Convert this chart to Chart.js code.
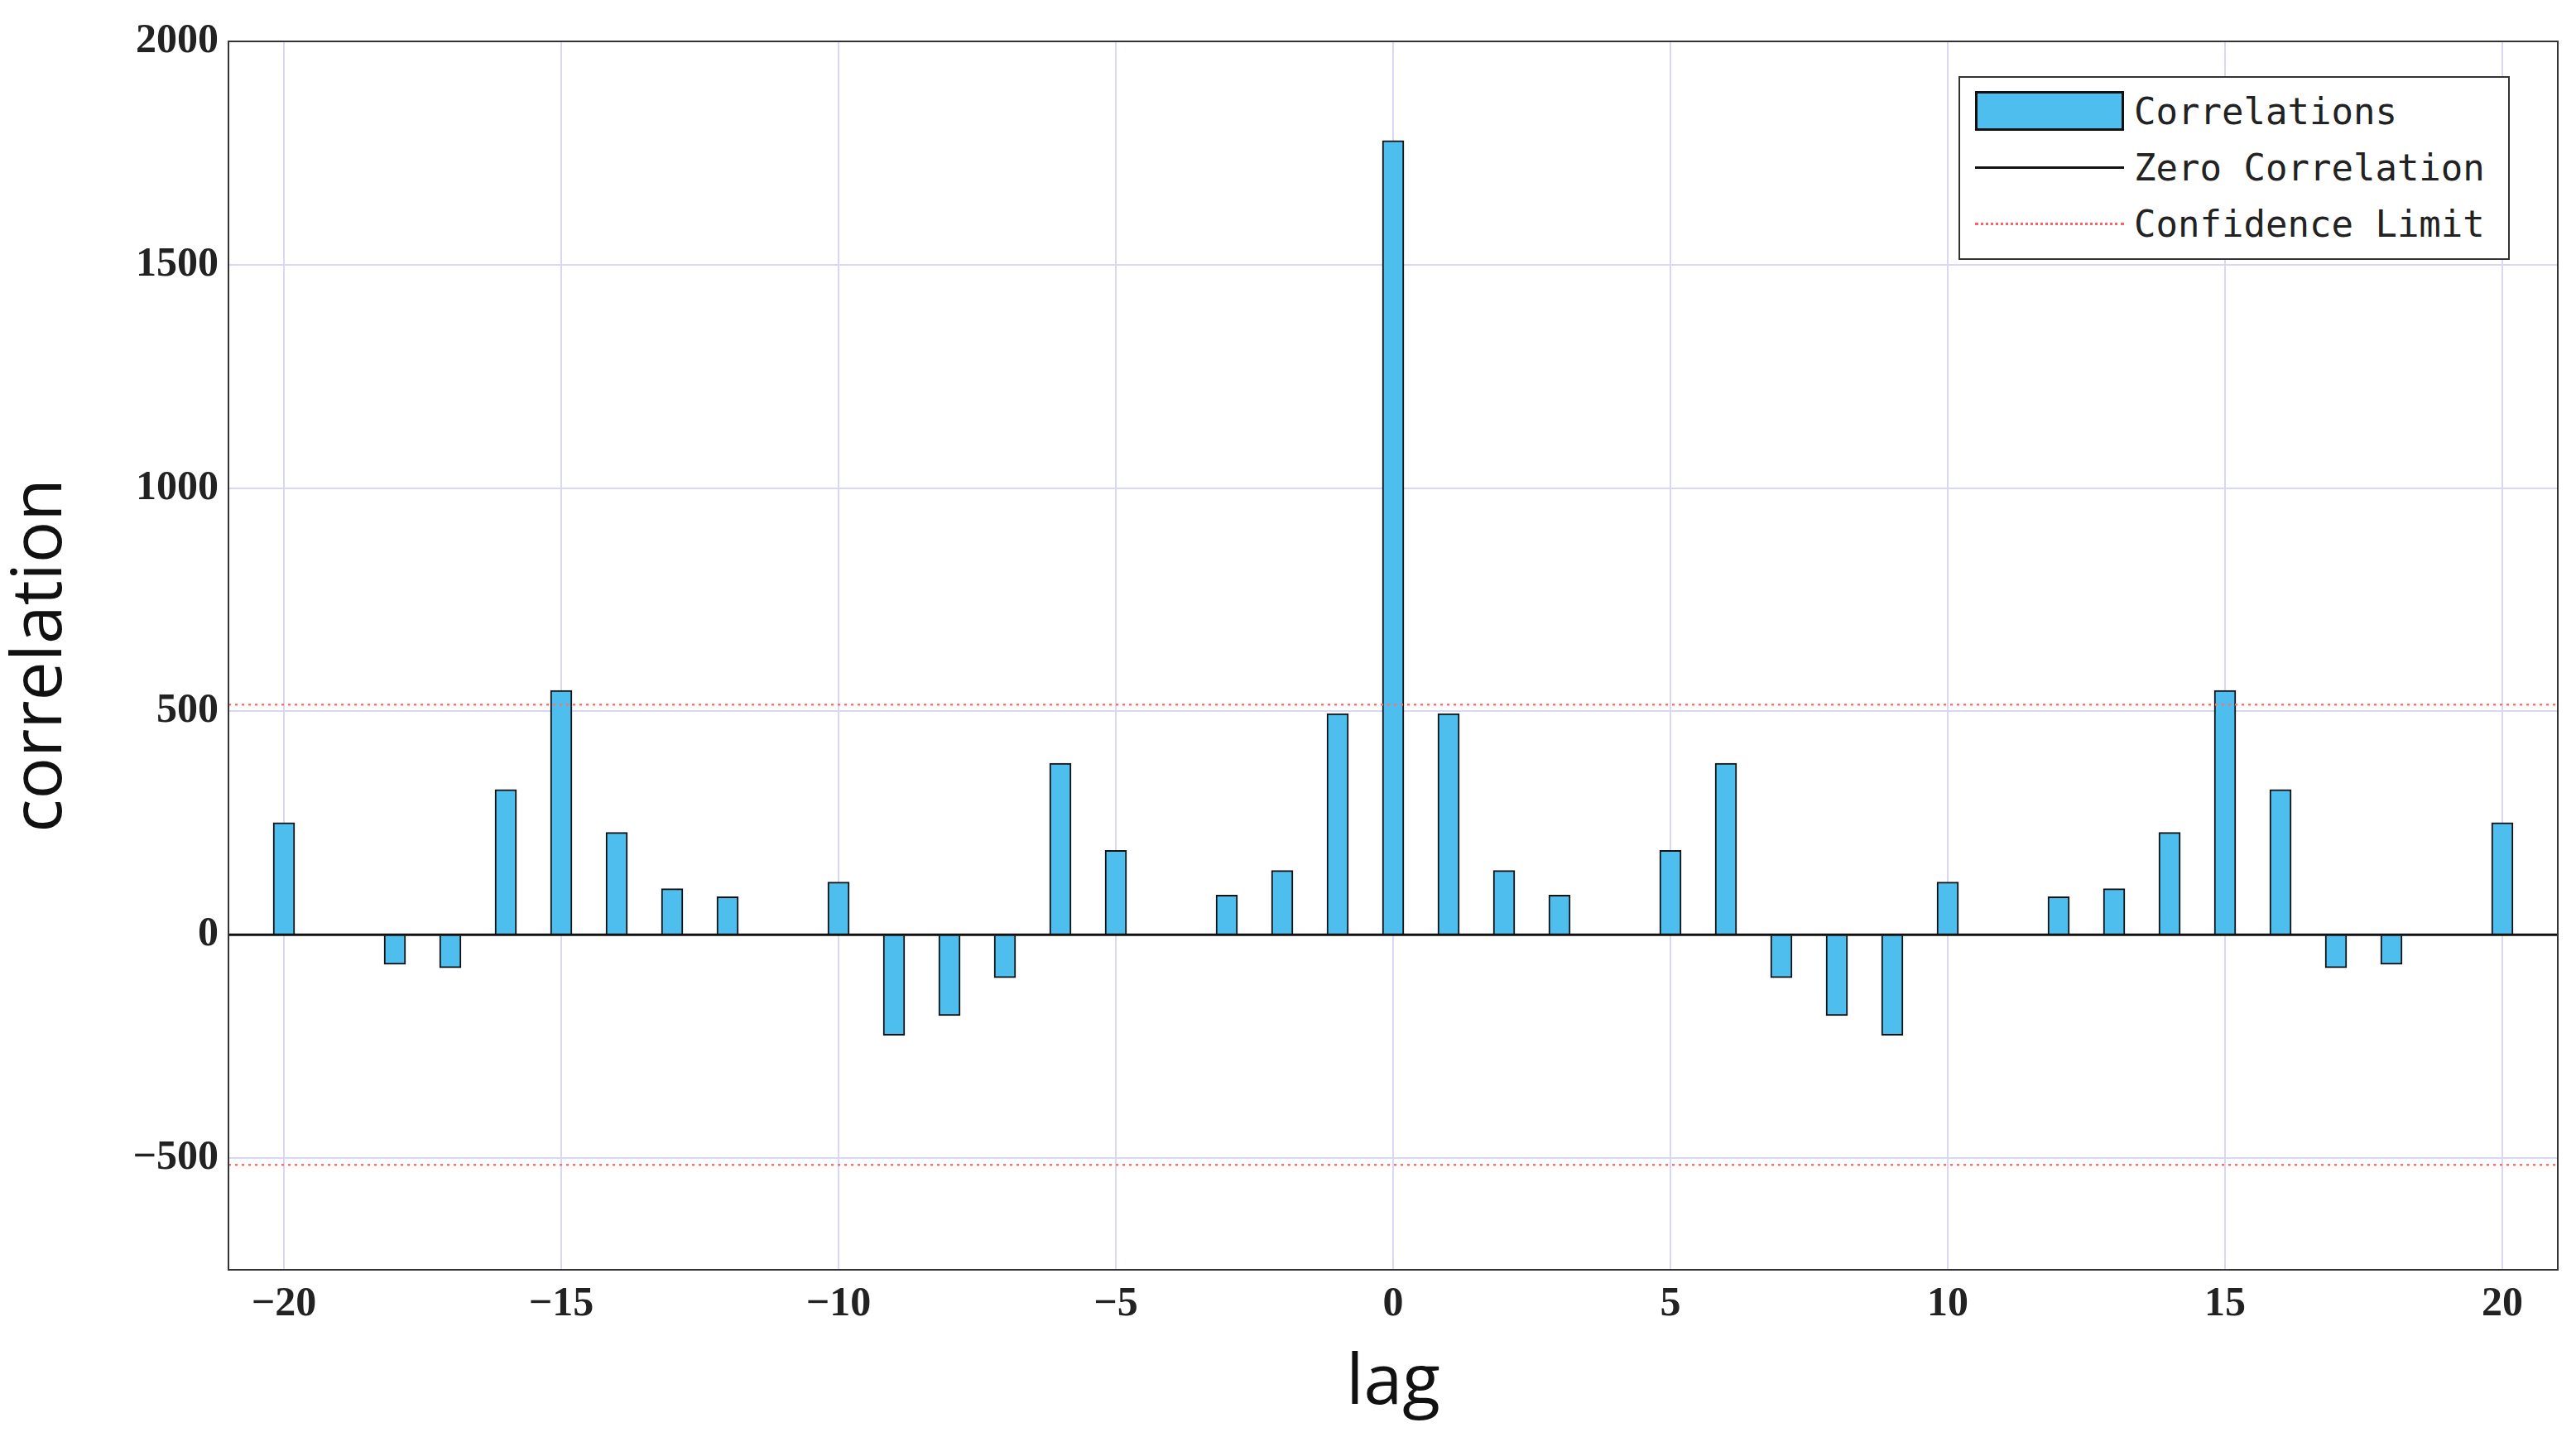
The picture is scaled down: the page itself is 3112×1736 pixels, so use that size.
<!DOCTYPE html>
<html>
<head>
<meta charset="utf-8">
<script src="https://cdn.jsdelivr.net/npm/chart.js@4/dist/chart.umd.min.js"></script>
<style>
  html, body { margin: 0; padding: 0; background: #fff; }
  #wrap { position: relative; width: 3112px; height: 1736px; }
  #legend {
    position: absolute; left: 2366px; top: 92px; width: 666px; height: 222px;
    border: 2px solid #333; background: #fff; box-sizing: border-box;
    font-family: "DejaVu Sans Mono", "Liberation Mono", monospace; font-size: 44px; color: #222;
  }
  .row { position: absolute; left: 0; height: 60px; display: flex; align-items: center; }
  .sample { width: 180px; margin-left: 18px; margin-right: 12px; box-sizing: border-box; }
</style>
</head>
<body>
<div id="wrap">
  <canvas id="grafico" width="3112" height="1736"></canvas>
  <div id="legend">
    <div class="row" style="top:10px"><div class="sample" style="height:48px;background:#4dbeee;border:3px solid #111"></div>Correlations</div>
    <div class="row" style="top:78px"><div class="sample" style="border-top:3px solid #111"></div>Zero Correlation</div>
    <div class="row" style="top:146px"><div class="sample" style="border-top:3px dotted #ff6060"></div>Confidence Limit</div>
  </div>
</div>
<script>
// DATOS
const lags = [-20,-19,-18,-17,-16,-15,-14,-13,-12,-11,-10,-9,-8,-7,-6,-5,-4,-3,-2,-1,0,
              1,2,3,4,5,6,7,8,9,10,11,12,13,14,15,16,17,18,19,20];
const correlaciones = [251,0,-66,-74,325,547,229,103,85,0,118,-225,-181,-96,384,189,0,89,144,495,1778,
                       495,144,89,0,189,384,-96,-181,-225,118,0,85,103,229,547,325,-74,-66,0,251];
const limiteConfianza = 515;
const xTicks = [-20,-15,-10,-5,0,5,10,15,20];
const yTicks = [-500,0,500,1000,1500,2000];

const serif = "'Liberation Serif', 'DejaVu Serif', serif";

new Chart(document.getElementById('grafico'), {
  type: 'bar',
  data: {
    datasets: [
      {
        type: 'bar', label: 'Correlations',
        data: lags.map((l, i) => ({ x: l, y: correlaciones[i] })),
        backgroundColor: '#4dbeee', borderColor: '#111', borderWidth: 2,
        barThickness: 26, order: 2
      },
      {
        type: 'line', label: 'Zero Correlation',
        data: [{ x: -21, y: 0 }, { x: 21, y: 0 }],
        borderColor: '#111', borderWidth: 3, pointRadius: 0, order: 1
      },
      {
        type: 'line', label: 'Confidence Limit',
        data: [{ x: -21, y: limiteConfianza }, { x: 21, y: limiteConfianza }],
        borderColor: '#ff7070', borderWidth: 2.5, borderDash: [3, 5], pointRadius: 0, order: 1
      },
      {
        type: 'line', label: 'Confidence Limit 2',
        data: [{ x: -21, y: -limiteConfianza }, { x: 21, y: -limiteConfianza }],
        borderColor: '#ff7070', borderWidth: 2.5, borderDash: [3, 5], pointRadius: 0, order: 1
      }
    ]
  },
  options: {
    responsive: false, animation: false,
    layout: { padding: { top: 50, right: 22, left: 0, bottom: 0 } },
    plugins: { legend: { display: false }, tooltip: { enabled: false } },
    scales: {
      x: {
        type: 'linear', min: -21, max: 21, offset: false,
        afterBuildTicks: s => { s.ticks = xTicks.map(v => ({ value: v })); },
        afterFit: s => { s.height = 202; },
        ticks: {
          font: { family: serif, size: 50, weight: 'bold' }, color: '#222', padding: 12,
          callback: v => String(v).replace('-', '\u2212')
        },
        grid: { color: '#d8d8f4', lineWidth: 2, drawTicks: false, offset: false },
        border: { color: '#333', width: 2 },
        title: { display: true, text: 'lag', font: { family: "'Open Sans', sans-serif", size: 84 }, color: '#111', padding: { top: 0, bottom: 14 } }
      },
      y: {
        min: -750, max: 2000,
        afterBuildTicks: s => { s.ticks = yTicks.map(v => ({ value: v })); },
        afterFit: s => { s.width = 276; },
        ticks: {
          font: { family: serif, size: 50, weight: 'bold' }, color: '#222', padding: 12,
          callback: v => String(v).replace('-', '\u2212')
        },
        grid: { color: '#d8d8f4', lineWidth: 2, drawTicks: false },
        border: { color: '#333', width: 2 },
        title: { display: true, text: 'correlation', font: { family: "'Open Sans', sans-serif", size: 84 }, color: '#111', padding: 0 }
      }
    }
  },
  plugins: [{
    id: 'marco',
    afterDraw(c) {
      const a = c.chartArea, ctx = c.ctx;
      ctx.save(); ctx.strokeStyle = '#333'; ctx.lineWidth = 2;
      ctx.strokeRect(a.left, a.top, a.right - a.left, a.bottom - a.top);
      ctx.restore();
    }
  }]
});
</script>
</body>
</html>
